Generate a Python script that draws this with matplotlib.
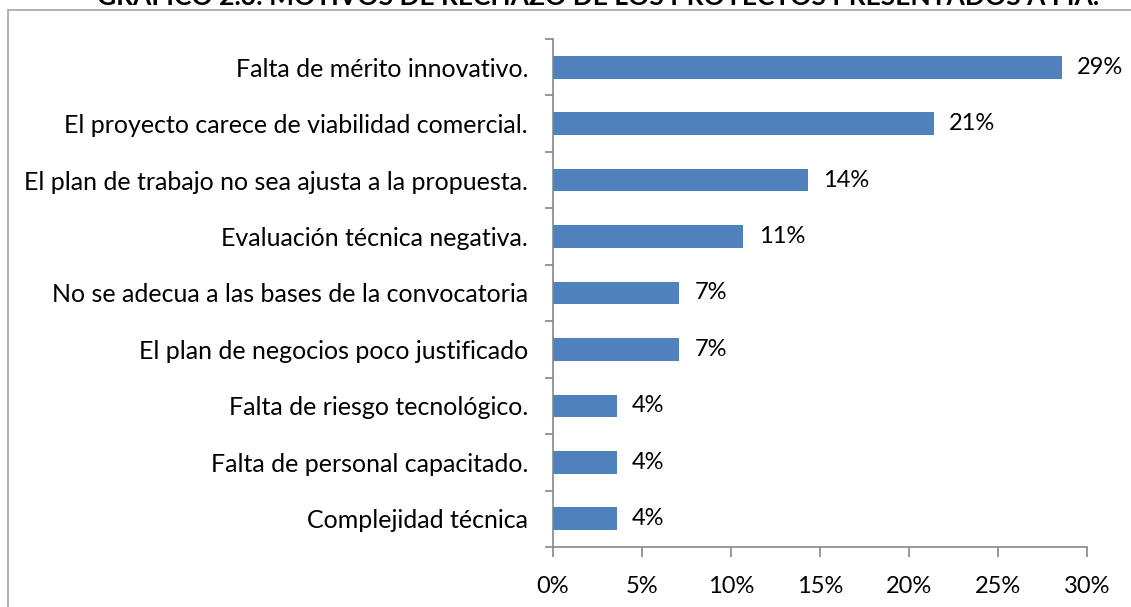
import matplotlib
matplotlib.use("Agg")
import matplotlib.pyplot as plt
from matplotlib.patches import Rectangle
from matplotlib.ticker import FuncFormatter

categories = [
    "Falta de mérito innovativo.",
    "El proyecto carece de viabilidad comercial.",
    "El plan de trabajo no sea ajusta a la propuesta.",
    "Evaluación técnica negativa.",
    "No se adecua a las bases de la convocatoria",
    "El plan de negocios poco justificado",
    "Falta de riesgo tecnológico.",
    "Falta de personal capacitado.",
    "Complejidad técnica",
]
values = [28.6, 21.4, 14.3, 10.7, 7.1, 7.1, 3.6, 3.6, 3.6]
value_labels = ["29%", "21%", "14%", "11%", "7%", "7%", "4%", "4%", "4%"]
x_ticks = [0, 5, 10, 15, 20, 25, 30]
title = "GRÁFICO 2.3: MOTIVOS DE RECHAZO DE LOS PROYECTOS PRESENTADOS A FIA."

plt.rcParams["font.family"] = ["Lato", "DejaVu Sans"]

W, H = 1131, 607
fig = plt.figure(figsize=(W / 100, H / 100), dpi=100)
ax = fig.add_axes([553 / W, (H - 547) / H, (1087 - 553) / W, (547 - 39) / H])

gray = "#868686"
bar_color = "#4F81BD"
fs = 17

n = len(categories)
ypos = list(range(n))
ax.barh(ypos, values, height=0.4, color=bar_color, edgecolor="none")
ax.set_ylim(n - 0.5, -0.5)
ax.set_xlim(0, 30)

for y, v, lab in zip(ypos, values, value_labels):
    ax.text(v + 0.85, y, lab, va="center", ha="left", fontsize=fs, color="black")

ax.set_yticks(ypos)
ax.set_yticklabels(categories, fontsize=18)
ax.set_yticks([i - 0.5 for i in range(n + 1)], minor=True)
ax.tick_params(axis="y", which="major", length=0, pad=18)
ax.tick_params(axis="y", which="minor", length=6, color=gray, width=1.2, direction="out")
ax.set_xticks(x_ticks)
ax.xaxis.set_major_formatter(FuncFormatter(lambda x, p: f"{int(x)}%"))
ax.tick_params(axis="x", length=7, color=gray, width=1.2, direction="out", labelsize=fs, pad=14)

for s in ["top", "right"]:
    ax.spines[s].set_visible(False)
for s in ["left", "bottom"]:
    ax.spines[s].set_color(gray)
    ax.spines[s].set_linewidth(1.2)

# chart border
fig.patches.append(Rectangle((8 / W, -0.02), 1.05, (H - 10) / H + 0.02, transform=fig.transFigure,
                             fill=False, edgecolor="#A6A6A6", linewidth=1.2))

fig.text(598 / W, 1.006, title, ha="center", va="center", fontsize=19, fontweight="bold")

fig.savefig("out.png", dpi=100)
